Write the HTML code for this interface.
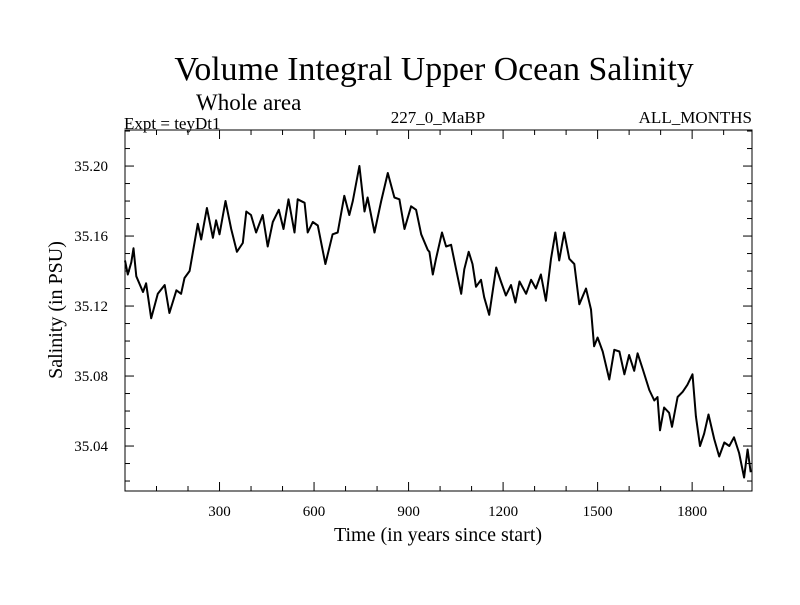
<!DOCTYPE html>
<html><head><meta charset="utf-8"><style>
body{margin:0;background:#fff}
svg text{font-family:"Liberation Serif",serif;fill:#000}
</style></head><body>
<svg id="chart" width="800" height="600" xmlns="http://www.w3.org/2000/svg">
<text x="434" y="80" font-size="33.8" text-anchor="middle">Volume Integral Upper Ocean Salinity</text>
<text x="196" y="110" font-size="23">Whole area</text>
<text x="124" y="129" font-size="17">Expt = teyDt1</text>
<text x="438" y="123" font-size="17" text-anchor="middle">227_0_MaBP</text>
<text x="752" y="123" font-size="17" text-anchor="end">ALL_MONTHS</text>
<text transform="translate(62,310) rotate(-90)" font-size="20" text-anchor="middle">Salinity (in PSU)</text>
<text x="438" y="541" font-size="20" text-anchor="middle">Time (in years since start)</text>
<g id="axes"></g>
<path id="line" fill="none" stroke="#000" stroke-width="2" stroke-linejoin="round"/>
<rect x="125" y="130" width="627" height="361" fill="none" stroke="#000" stroke-width="1"/>
</svg>
<script>
const years=[0,9,20,27,36,57,67,83,104,126,141,163,178,189,205,231,242,260,279,289,300,319,337,355,374,385,400,416,437,453,469,488,503,519,538,548,570,580,596,612,636,659,675,696,712,723,744,760,770,792,813,834,855,871,887,908,924,940,961,966,977,987,1006,1019,1035,1051,1067,1077,1091,1103,1114,1130,1140,1156,1178,1193,1209,1225,1239,1252,1273,1289,1304,1320,1336,1352,1366,1378,1394,1410,1426,1442,1463,1479,1489,1500,1516,1537,1553,1569,1585,1600,1616,1627,1643,1664,1680,1690,1698,1711,1727,1736,1754,1770,1785,1801,1812,1825,1838,1852,1870,1886,1902,1918,1933,1949,1965,1976,1986];
const salinity=[35.146,35.138,35.145,35.153,35.137,35.128,35.133,35.113,35.127,35.132,35.116,35.129,35.127,35.136,35.140,35.167,35.158,35.176,35.159,35.169,35.161,35.180,35.164,35.151,35.156,35.174,35.172,35.162,35.172,35.154,35.168,35.175,35.164,35.181,35.162,35.181,35.179,35.162,35.168,35.166,35.144,35.161,35.162,35.183,35.172,35.180,35.200,35.174,35.182,35.162,35.180,35.196,35.182,35.181,35.164,35.177,35.175,35.161,35.152,35.151,35.138,35.147,35.162,35.154,35.155,35.141,35.127,35.141,35.151,35.144,35.131,35.135,35.125,35.115,35.142,35.134,35.126,35.132,35.122,35.134,35.127,35.135,35.130,35.138,35.123,35.147,35.162,35.146,35.162,35.147,35.144,35.121,35.130,35.118,35.097,35.102,35.094,35.078,35.095,35.094,35.081,35.092,35.083,35.093,35.084,35.072,35.066,35.068,35.049,35.062,35.059,35.051,35.068,35.071,35.075,35.081,35.057,35.040,35.047,35.058,35.044,35.034,35.042,35.040,35.045,35.036,35.022,35.038,35.025];
const xTickLabels=[300,600,900,1200,1500,1800];
const yTickLabels=[35.04,35.08,35.12,35.16,35.20];
const X0=125,X1=752,Y0=130,Y1=491,XMIN=0,XMAX=1990,YMIN=35.0143,YMAX=35.2206;
const xs=v=>X0+(v-XMIN)/(XMAX-XMIN)*(X1-X0);
const ys=v=>Y1-(v-YMIN)/(YMAX-YMIN)*(Y1-Y0);
const NS="http://www.w3.org/2000/svg";
const g=document.getElementById('axes');
function ln(x1,y1,x2,y2,name){const l=document.createElementNS(NS,'line');
l.setAttribute('x1',x1);l.setAttribute('y1',y1);l.setAttribute('x2',x2);l.setAttribute('y2',y2);l.setAttribute('stroke','#000');


g.appendChild(l);}
for(let v=100;v<XMAX;v+=100){const x=xs(v),L=(v%300===0)?9:5;ln(x,Y1,x,Y1-L,'x-tick');ln(x,Y0,x,Y0+L,'x-tick-top');}
for(let k=2;k<=22;k++){const v=35+k*0.01;if(v<YMIN||v>YMAX)continue;const y=ys(v),L=(k%4===0)?9:5;ln(X0,y,X0+L,y,'y-tick');ln(X1,y,X1-L,y,'y-tick-right');}
xTickLabels.forEach(v=>{const t=document.createElementNS(NS,'text');t.setAttribute('x',xs(v));t.setAttribute('y',516);t.setAttribute('font-size','15');t.setAttribute('text-anchor','middle');t.textContent=v;


g.appendChild(t);});
yTickLabels.forEach(v=>{const t=document.createElementNS(NS,'text');t.setAttribute('x',108);t.setAttribute('y',ys(v)+5);t.setAttribute('font-size','15');t.setAttribute('text-anchor','end');t.textContent=v.toFixed(2);


g.appendChild(t);});
document.getElementById('line').setAttribute('d',years.map((y,i)=>(i?'L':'M')+xs(y).toFixed(1)+','+ys(salinity[i]).toFixed(1)).join(''));
</script>
</body></html>
